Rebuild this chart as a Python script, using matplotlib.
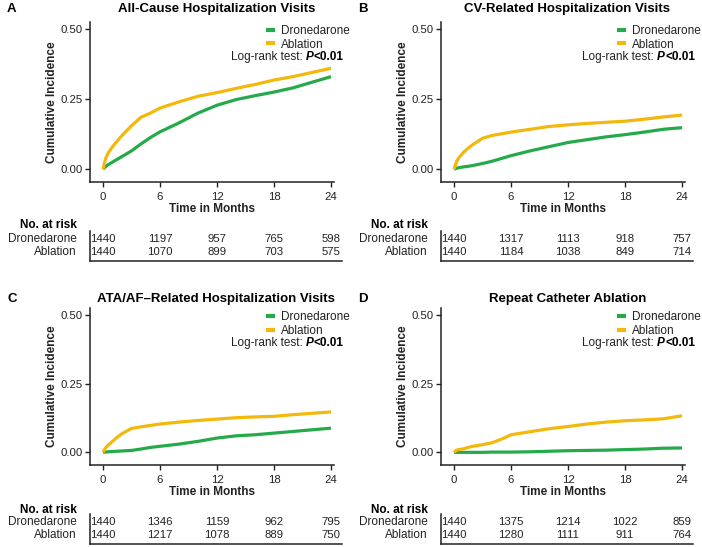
import numpy as np
import matplotlib
matplotlib.use("Agg")
import matplotlib.pyplot as plt

plt.rcParams['font.family'] = ['Liberation Sans', 'DejaVu Sans']

months = [0, 0.25, 0.5, 1, 1.5, 2, 3, 4, 5, 6, 8, 10, 12, 14, 16, 18, 20, 22, 24]

titles = ['All-Cause Hospitalization Visits', 'CV-Related Hospitalization Visits',
          'ATA/AF\u2013Related Hospitalization Visits', 'Repeat Catheter Ablation']
letters = ['A', 'B', 'C', 'D']

dron_a = [0, 0.008, 0.015, 0.025, 0.035, 0.045, 0.065, 0.09, 0.113, 0.133, 0.165, 0.2,
          0.228, 0.248, 0.262, 0.275, 0.29, 0.31, 0.33]
abl_a = [0, 0.035, 0.055, 0.08, 0.10, 0.12, 0.155, 0.185, 0.20, 0.218, 0.24, 0.26,
         0.273, 0.288, 0.302, 0.318, 0.33, 0.345, 0.36]
dron_b = [0, 0.003, 0.005, 0.008, 0.01, 0.013, 0.02, 0.028, 0.038, 0.048, 0.065, 0.08,
          0.095, 0.105, 0.115, 0.123, 0.132, 0.142, 0.148]
abl_b = [0, 0.025, 0.04, 0.06, 0.075, 0.088, 0.11, 0.12, 0.126, 0.132, 0.142, 0.152,
         0.158, 0.163, 0.167, 0.171, 0.178, 0.186, 0.193]
dron_c = [0, 0.001, 0.002, 0.003, 0.004, 0.005, 0.007, 0.012, 0.018, 0.022, 0.03, 0.04,
          0.052, 0.06, 0.064, 0.07, 0.076, 0.082, 0.088]
abl_c = [0, 0.015, 0.025, 0.04, 0.055, 0.068, 0.087, 0.093, 0.098, 0.103, 0.11, 0.116,
         0.121, 0.126, 0.129, 0.131, 0.137, 0.142, 0.147]
dron_d = [0, 0, 0, 0, 0, 0, 0, 0.001, 0.001, 0.001, 0.002, 0.004,
          0.006, 0.007, 0.008, 0.01, 0.012, 0.015, 0.016]
abl_d = [0, 0.008, 0.01, 0.013, 0.018, 0.022, 0.028, 0.035, 0.048, 0.064, 0.075, 0.086,
         0.094, 0.103, 0.11, 0.115, 0.118, 0.122, 0.133]

risk_times = [0, 6, 12, 18, 24]
risk_dron = [[1440, 1197, 957, 765, 598], [1440, 1317, 1113, 918, 757],
             [1440, 1346, 1159, 962, 795], [1440, 1375, 1214, 1022, 859]]
risk_abl = [[1440, 1070, 899, 703, 575], [1440, 1184, 1038, 849, 714],
            [1440, 1217, 1078, 889, 750], [1440, 1280, 1111, 911, 764]]

dron = [dron_a, dron_b, dron_c, dron_d]
abl = [abl_a, abl_b, abl_c, abl_d]

GREEN = '#25AA4A'
GOLD = '#F4B80C'
DARK = '#222222'
FS = 8.5

W, H = 702, 547
fig = plt.figure(figsize=(W / 100, H / 100), dpi=100)


def box(x0, y0, x1, y1):
    # pixel box (top-left origin) -> figure fraction rect
    return [x0 / W, 1 - y1 / H, (x1 - x0) / W, (y1 - y0) / H]


px_per_month = 9.5
x_lo = -1.37

for i in range(4):
    dx = 351 * (i % 2)
    if i < 2:
        top, bot, title_y, dy = 22, 182, 9, 0
        rtop, rbot, nrisk_y = 231, 261, 225
    else:
        top, bot, title_y, dy = 308, 465, 299, 286
        rtop, rbot, nrisk_y = 514, 544, 510
    left = 90 + dx
    right = 334 + dx

    ax = fig.add_axes(box(left, top, right, bot))
    ax.plot(months, dron[i], color=GREEN, lw=2.3, label='Dronedarone', solid_capstyle='butt')
    ax.plot(months, abl[i], color=GOLD, lw=2.3, label='Ablation', solid_capstyle='butt')
    ax.set_xlim(x_lo, x_lo + (right - left) / px_per_month)
    ax.set_ylim(-0.046, 0.525)
    ax.set_xticks([0, 6, 12, 18, 24])
    ax.set_yticks([0, 0.25, 0.5])
    ax.set_yticklabels(['0.00', '0.25', '0.50'])
    for s in ['top', 'right']:
        ax.spines[s].set_visible(False)
    for s in ['left', 'bottom']:
        ax.spines[s].set_color(DARK)
        ax.spines[s].set_linewidth(1.1)
    ax.tick_params(colors=DARK, labelsize=8.2, length=3.5, width=1.0)
    ax.tick_params(axis='y', pad=1.5)
    ax.tick_params(axis='x', pad=3.5)
    ax.set_xlabel('Time in Months', fontsize=FS, fontweight='bold', color=DARK, labelpad=1)
    ax.set_ylabel('Cumulative Incidence', fontsize=FS, fontweight='bold', color=DARK, labelpad=2)

    fig.text((left + right) / 2 / W + 0.006, 1 - title_y / H, titles[i], fontsize=9.5,
             fontweight='bold', ha='center', va='center', color='black')
    fig.text((7 + dx) / W, 1 - title_y / H, letters[i], fontsize=9.5,
             fontweight='bold', ha='left', va='center', color='black')

    leg = ax.legend(loc='upper right', bbox_to_anchor=(1 + 20 / 244, 1.008), frameon=False,
                    fontsize=FS, handlelength=0.8, handletextpad=0.45,
                    labelspacing=0.1, borderaxespad=0)
    for t in leg.get_texts():
        t.set_color(DARK)
    for h in leg.get_lines():
        h.set_linewidth(3)

    tx = (right + 10) / W
    ty = 1 - (57 + dy) / H
    t1 = fig.text(tx, ty, '<0.01', fontsize=FS, fontweight='bold', ha='right', va='center',
                  color='black')
    p = ax.annotate('P', xy=(0, 0.5), xycoords=t1, fontsize=FS, fontweight='bold',
                    style='italic', ha='right', va='center', color='black',
                    annotation_clip=False)
    ax.annotate('Log-rank test: ', xy=(0, 0.5), xycoords=p, fontsize=FS, ha='right',
                va='center', color=DARK, annotation_clip=False)

    # risk table
    rt = fig.add_axes(box(left, rtop, left + 252, rbot))
    rt.set_xlim(x_lo, x_lo + 252 / px_per_month)
    rt.set_ylim(0, 1)
    rt.set_xticks([])
    rt.set_yticks([])
    for s in ['top', 'right']:
        rt.spines[s].set_visible(False)
    for s in ['left', 'bottom']:
        rt.spines[s].set_color(DARK)
        rt.spines[s].set_linewidth(1.1)
    rt.patch.set_alpha(0)
    row_y = [0.74, 0.3]
    for rows, yy in zip([risk_dron[i], risk_abl[i]], row_y):
        for tm, n in zip(risk_times, rows):
            rt.text(tm, yy, str(n), fontsize=8.2, ha='center', va='center', color=DARK)
    for lab, yy in zip(['Dronedarone', 'Ablation'], row_y):
        rt.text(-13 / 252, yy, lab, transform=rt.transAxes, fontsize=FS,
                ha='right', va='center', color=DARK)
    fig.text((left - 13) / W, 1 - nrisk_y / H, 'No. at risk', fontsize=FS,
             fontweight='bold', ha='right', va='center', color='black')

fig.savefig('out.png', dpi=100)
